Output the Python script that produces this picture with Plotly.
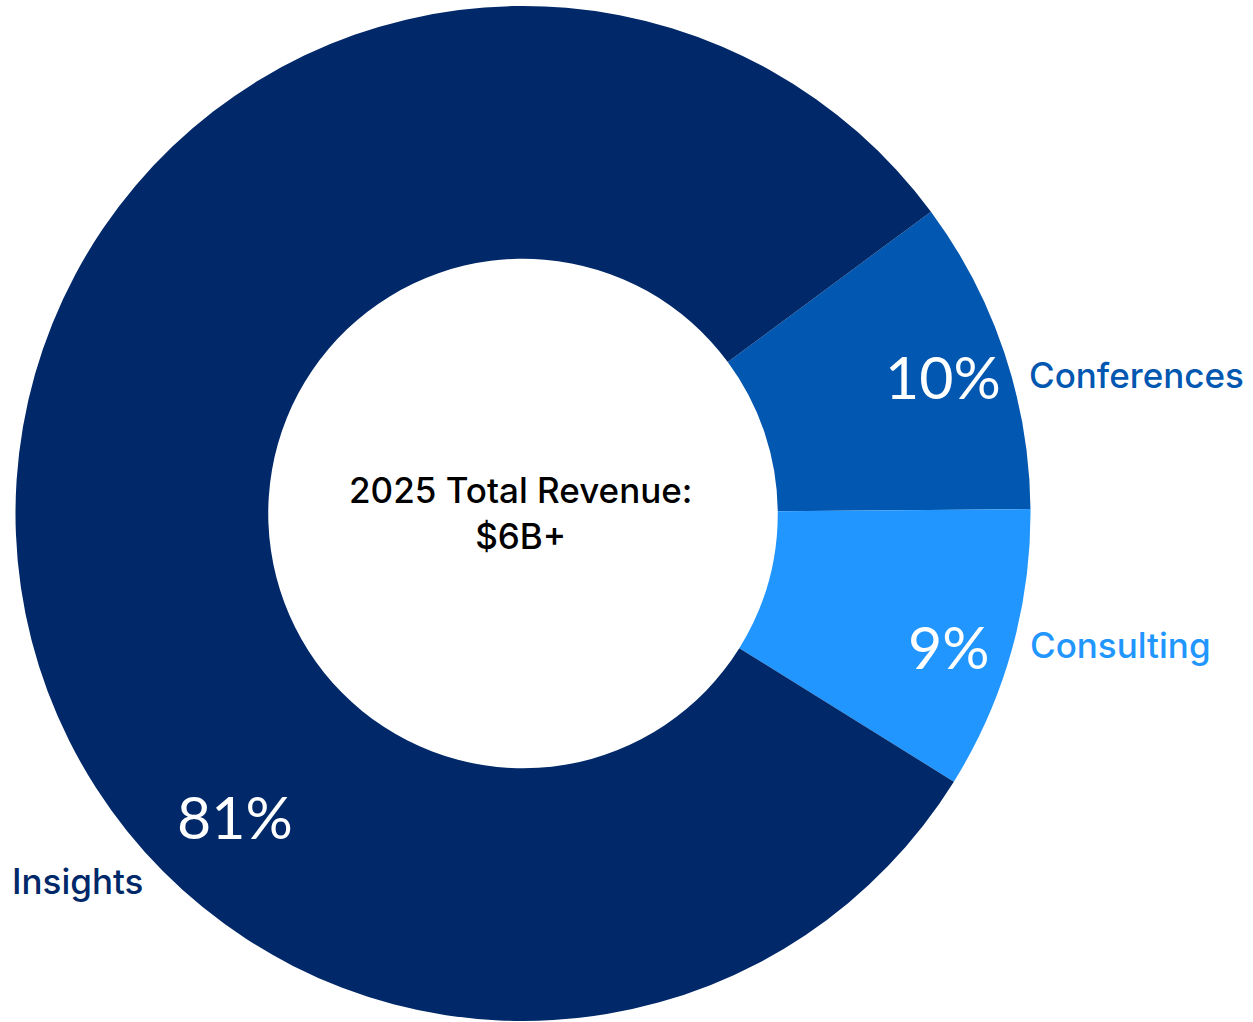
import plotly.graph_objects as go

# Revenue split by segment (percent of total)
segments = ["Conferences", "Consulting", "Insights"]
shares = [10, 9, 81]
colors = ["#0257B1", "#2196FE", "#012868"]
center_title = "2025 Total Revenue:"
center_value = "$6B+"

W, H = 1253, 1022
PCT_FONT = "Lato"
TXT_FONT = "Inter"

fig = go.Figure(
    go.Pie(
        labels=segments,
        values=shares,
        sort=False,
        direction="clockwise",
        rotation=53.5,
        hole=0.502,
        marker=dict(colors=colors, line=dict(width=0)),
        textinfo="none",
        hoverinfo="label+percent",
        domain=dict(x=[15 / W, 1031 / W], y=[1 / H, 1016 / H]),
        showlegend=False,
    )
)

# label placement in pixels: (percent x, percent y, name x, name y)
pos = {
    "Conferences": (943, 377, 1027, 375),
    "Consulting": (949, 646, 1028, 645),
    "Insights": (235, 816, 10, 881),
}

annotations = []
for seg, val, col in zip(segments, shares, colors):
    px, py, nx, ny = pos[seg]
    annotations.append(dict(
        x=px / W, y=1 - py / H, xref="paper", yref="paper",
        text=f"{val}%", showarrow=False, xanchor="center", yanchor="middle",
        font=dict(family=PCT_FONT, size=59, color="white"),
    ))
    annotations.append(dict(
        x=nx / W, y=1 - ny / H, xref="paper", yref="paper",
        text=seg, showarrow=False, xanchor="left", yanchor="middle",
        font=dict(family=TXT_FONT, size=35, color=col, weight=500),
    ))

annotations.append(dict(
    x=520 / W, y=1 - 513 / H, xref="paper", yref="paper",
    text=f"{center_title}<br>{center_value}", showarrow=False,
    xanchor="center", yanchor="middle", align="center",
    font=dict(family=TXT_FONT, size=35, color="black", weight=500),
))

fig.update_layout(
    width=W, height=H,
    margin=dict(l=0, r=0, t=0, b=0),
    paper_bgcolor="white", plot_bgcolor="white",
    annotations=annotations,
)

fig.write_html("out.html")
